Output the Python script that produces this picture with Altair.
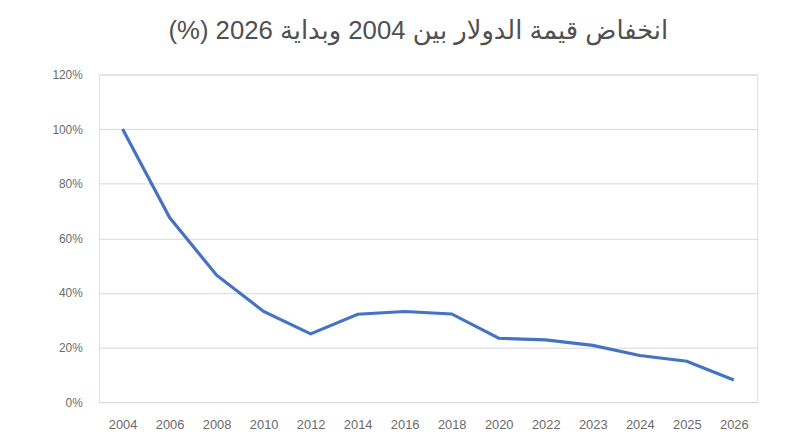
import altair as alt
import pandas as pd

years = ["2004", "2006", "2008", "2010", "2012", "2014", "2016", "2018",
         "2020", "2022", "2023", "2024", "2025", "2026"]
values = [100, 67.6, 46.5, 33.2, 25.0, 32.2, 33.2, 32.3,
          23.4, 22.8, 20.8, 17.1, 15.0, 8.1]
y_ticks = [0, 20, 40, 60, 80, 100, 120]
title_text = "\u200fانخفاض قيمة الدولار بين 2004 وبداية 2026 (%)\u200f"

df = pd.DataFrame({"year": years, "value": [v / 100 for v in values]})

chart = alt.Chart(df).mark_line(color="#4472C4", strokeWidth=3.2).encode(
    x=alt.X("year:N", sort=years, title=None,
            scale=alt.Scale(padding=0.5),
            axis=alt.Axis(labelAngle=0, ticks=False, domain=False, grid=False,
                          labelPadding=17, labelFontSize=13, labelColor="#6a6a6a",
                          labelFont="Liberation Sans")),
    y=alt.Y("value:Q", title=None,
            scale=alt.Scale(domain=[0, 1.2], nice=False),
            axis=alt.Axis(values=[t / 100 for t in y_ticks], format=".0%",
                          ticks=False, domain=False, grid=True,
                          gridColor="#d9d9d9", gridWidth=1,
                          labelPadding=17, labelFontSize=12, labelColor="#6a6a6a",
                          labelFont="Liberation Sans")),
).properties(
    width=665, height=331,
    title=alt.TitleParams(title_text, fontSize=26, font="Liberation Sans, DejaVu Sans",
                          fontWeight="normal", color="#505050", anchor="middle",
                          offset=25, dx=-10),
    autosize=alt.AutoSizeParams(type="none"),
    padding={"left": 92, "top": 65, "right": 30, "bottom": 30},
).configure_view(stroke=None).configure(background="white")

chart.save("out.html", embed_options={"renderer": "svg", "actions": False})
